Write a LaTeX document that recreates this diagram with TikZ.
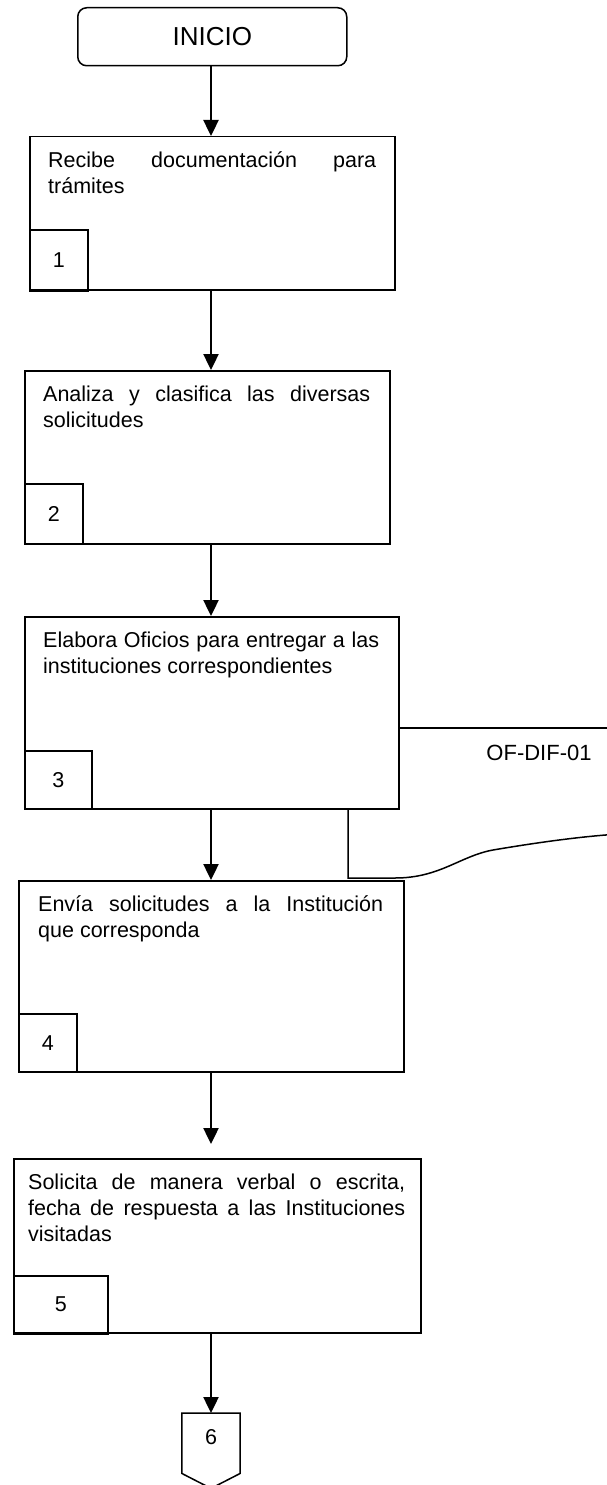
\documentclass[tikz,border=0pt]{standalone}
\usepackage{fontspec}
\setmainfont{Liberation Sans}
\usetikzlibrary{arrows.meta,calc}
\begin{document}
\begin{tikzpicture}[x=1pt,y=-1pt,
  box/.style={draw,line width=1.5pt,rectangle,inner sep=0pt,anchor=north west},
  numbox/.style={draw,line width=1.5pt,rectangle,inner sep=0pt,anchor=north west,font=\fontsize{21.5}{26}\selectfont},
  txt/.style={anchor=north west,inner sep=0pt,align=justify,font=\fontsize{21.5}{26}\selectfont},
  flow/.style={line width=2.4pt,-{Triangle[width=15pt,length=16pt]}},
  docline/.style={line width=1.5pt}]
\useasboundingbox (0,0) rectangle (607,1485);
\coordinate (ax) at (211,0);
\coordinate (dtop) at (0,728);
\coordinate (dl) at (348,0);

% start
\node[draw,line width=1.5pt,rounded corners=9pt,minimum width=269pt,minimum height=58pt,
  inner sep=0pt,anchor=north west,font=\fontsize{26}{30}\selectfont] (ini) at (77,7) {INICIO};

% step 1
\node[box,minimum width=365pt,minimum height=153pt] (b1) at (29,136) {};
\node[txt,text width=328pt] (t1) at (48,148.8) {\strut Recibe documentación para\linebreak trámites};
\node[numbox,minimum width=58pt,minimum height=60pt] (n1) at (29,229) {1};
\draw[line width=2.5pt] (n1.south west) -- (n1.south east);

% step 2
\node[box,minimum width=365pt,minimum height=173pt] (b2) at (24,370) {};
\node[txt,text width=327pt] (t2) at (43,382.8) {\strut Analiza y clasifica las diversas\linebreak solicitudes};
\node[numbox,minimum width=58pt,minimum height=60pt] (n2) at (24,483) {2};

% step 3
\node[box,minimum width=374pt,minimum height=192pt] (b3) at (24,616) {};
\node[txt,text width=336pt] (t3) at (43,628.8) {\strut Elabora Oficios para entregar a las\linebreak instituciones correspondientes};
\node[numbox,minimum width=67pt,minimum height=58pt] (n3) at (24,750) {3};

% document
\node[inner sep=0pt,font=\fontsize{22}{26}\selectfont] (doc) at (539,753) {OF-DIF-01};
\draw[docline] (b3.east |- dtop) -- (620,728);
\draw[docline] (b3.south -| dl) -- (348,878) -- (395,878)
  .. controls (440,878) and (460,856) .. (493,850)
  .. controls (540,842) and (585,836) .. (620,834);

% step 4
\node[box,minimum width=385pt,minimum height=191pt] (b4) at (18,880) {};
\node[txt,text width=345pt] (t4) at (38,892.8) {\strut Envía solicitudes a la Institución\linebreak que corresponda};
\node[numbox,minimum width=58pt,minimum height=58pt] (n4) at (18,1013) {4};

% step 5
\node[box,minimum width=407pt,minimum height=174pt] (b5) at (13,1158) {};
\node[txt,text width=377pt] (t5) at (28,1170.8) {\strut Solicita de manera verbal o escrita,\linebreak fecha de respuesta a las Instituciones\linebreak visitadas};
\node[numbox,minimum width=94pt,minimum height=57pt] (n5) at (13,1275) {5};
\draw[line width=2.5pt] (n5.south west) -- (n5.south east);

% off-page connector
\node[inner sep=0pt,minimum width=58pt,minimum height=60pt,anchor=north] (n6) at (211,1413) {};
\draw[line width=1.5pt] (n6.north west) -- (n6.north east) -- (n6.south east)
  -- ($(n6.south)+(0,15)$) -- (n6.south west) -- cycle;
\node[inner sep=0pt,font=\fontsize{21.5}{26}\selectfont] (l6) at (211,1437) {6};

% connectors
\draw[flow] (ini.south -| ax) -- (b1.north -| ax);
\draw[flow] (b1.south -| ax) -- (b2.north -| ax);
\draw[flow] (b2.south -| ax) -- (b3.north -| ax);
\draw[flow] (b3.south -| ax) -- (b4.north -| ax);
\draw[flow] (b4.south -| ax) -- ($(b5.north -| ax)+(0,-14)$);
\draw[flow] (b5.south -| ax) -- (n6.north);
\end{tikzpicture}
\end{document}
